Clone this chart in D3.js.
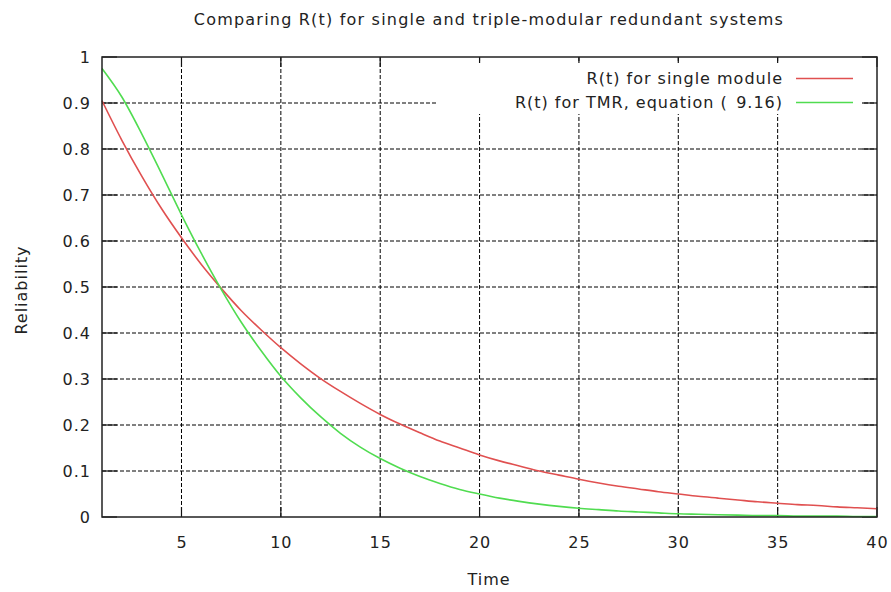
<!DOCTYPE html>
<html>
<head>
<meta charset="utf-8">
<script src="https://cdn.jsdelivr.net/npm/d3@7"></script>
<style>
  html, body { margin: 0; padding: 0; background: #fff; }
  svg { display: block; }
  text { font-family: "DejaVu Sans", sans-serif; fill: #222; letter-spacing: 1px; }
  text.title { letter-spacing: 1.2px; }
</style>
</head>
<body>
<svg id="chart" width="891" height="592"></svg>
<script>
// Time steps (hours, arbitrary units)
const times = [1,2,3,4,5,6,7,8,9,10,11,12,13,14,15,16,17,18,19,20,
               21,22,23,24,25,26,27,28,29,30,31,32,33,34,35,36,37,38,39,40];

// Reliability of a single module
const singleModule = [0.905,0.819,0.741,0.670,0.607,0.549,0.497,0.449,0.407,0.368,
                      0.333,0.301,0.273,0.247,0.223,0.202,0.183,0.165,0.150,0.135,
                      0.122,0.111,0.100,0.091,0.082,0.074,0.067,0.061,0.055,0.050,
                      0.045,0.041,0.037,0.033,0.030,0.027,0.025,0.022,0.020,0.018];

// Reliability of the triple-modular redundant arrangement
const tmrSystem = [0.975,0.913,0.833,0.746,0.657,0.573,0.495,0.424,0.362,0.306,
                   0.259,0.218,0.182,0.152,0.127,0.106,0.088,0.073,0.060,0.050,
                   0.041,0.034,0.028,0.023,0.019,0.016,0.013,0.011,0.009,0.007,
                   0.006,0.005,0.004,0.003,0.003,0.002,0.002,0.002,0.001,0.001];

const xTicks = [5,10,15,20,25,30,35,40];
const yTicks = [0,0.1,0.2,0.3,0.4,0.5,0.6,0.7,0.8,0.9,1];

const seriesLabels = ["R(t) for single module", "R(t) for TMR, equation (\u2009\u20099.16)"];
const seriesColors = ["#e05050", "#50dc50"];

const W = 891, H = 592;
const margin = {top: 57, right: 14, bottom: 75, left: 102};
const iw = W - margin.left - margin.right;
const ih = H - margin.top - margin.bottom;
const fs = 16;

const svg = d3.select("#chart");
const g = svg.append("g").attr("transform", `translate(${margin.left},${margin.top})`);

const x = d3.scaleLinear().domain([1, 40]).range([0, iw]);
const y = d3.scaleLinear().domain([0, 1]).range([ih, 0]);

// Dashed grid
const grid = g.append("g").attr("class", "grid");
grid.selectAll("line.gx").data(xTicks.filter(t => t < 40)).join("line")
  .attr("x1", d => x(d)).attr("x2", d => x(d))
  .attr("y1", 0).attr("y2", ih)
  .attr("stroke", "#000").attr("stroke-width", 1)
  .attr("stroke-dasharray", "4,2");
grid.selectAll("line.gy").data(yTicks.filter(t => t > 0 && t < 1)).join("line")
  .attr("x1", 0).attr("x2", iw)
  .attr("y1", d => y(d)).attr("y2", d => y(d))
  .attr("stroke", "#000").attr("stroke-width", 1)
  .attr("stroke-dasharray", "4,2");

// Inward tick marks on all four sides
const ticks = g.append("g");
const yTickLen = 15, xTickLen = 10;
yTicks.forEach(t => {
  ticks.append("line").attr("x1", 0).attr("x2", yTickLen).attr("y1", y(t)).attr("y2", y(t));
  ticks.append("line").attr("x1", iw).attr("x2", iw - yTickLen).attr("y1", y(t)).attr("y2", y(t));
});
xTicks.forEach(t => {
  ticks.append("line").attr("x1", x(t)).attr("x2", x(t)).attr("y1", ih).attr("y2", ih - xTickLen);
  ticks.append("line").attr("x1", x(t)).attr("x2", x(t)).attr("y1", 0).attr("y2", xTickLen);
});
ticks.selectAll("line").attr("stroke", "#111").attr("stroke-width", 1.2);

// Key with opaque background
const key = g.append("g");
key.append("rect")
  .attr("x", 335).attr("y", 6).attr("width", 425).attr("height", 51)
  .attr("fill", "#fff");

// Curves
const line = d3.line()
  .x((d, i) => x(times[i]))
  .y(d => y(d))
  .curve(d3.curveMonotoneX);

[singleModule, tmrSystem].forEach((s, k) => {
  g.append("path").datum(s)
    .attr("d", line)
    .attr("fill", "none")
    .attr("stroke", seriesColors[k])
    .attr("stroke-width", 1.6);
});

// Key entries
seriesLabels.forEach((lab, k) => {
  const yy = 21.5 + k * 24;
  key.append("text")
    .attr("x", 681).attr("y", yy).attr("dy", "0.36em")
    .attr("text-anchor", "end")
    .attr("font-size", fs)
    .text(lab);
  key.append("line")
    .attr("x1", 694).attr("x2", 751).attr("y1", yy).attr("y2", yy)
    .attr("stroke", seriesColors[k]).attr("stroke-width", 1.6);
});

// Plot border
g.append("rect").attr("x", 0).attr("y", 0).attr("width", iw).attr("height", ih)
  .attr("fill", "none").attr("stroke", "#222").attr("stroke-width", 1.5);

// Tick labels
g.selectAll("text.ylab").data(yTicks).join("text")
  .attr("class", "ylab")
  .attr("x", -11).attr("y", d => y(d)).attr("dy", "0.36em")
  .attr("text-anchor", "end").attr("font-size", fs)
  .text(d => d3.format("~g")(d));
g.selectAll("text.xlab").data(xTicks).join("text")
  .attr("class", "xlab")
  .attr("x", d => x(d) + 0.5).attr("y", ih + 31)
  .attr("text-anchor", "middle").attr("font-size", fs)
  .text(d => d);

// Titles
svg.append("text").attr("class", "title").attr("x", 489).attr("y", 25)
  .attr("text-anchor", "middle").attr("font-size", fs)
  .text("Comparing R(t) for single and triple-modular redundant systems");
svg.append("text").attr("x", 489).attr("y", 585)
  .attr("text-anchor", "middle").attr("font-size", fs)
  .text("Time");
svg.append("text")
  .attr("transform", "translate(27,290) rotate(-90)")
  .attr("text-anchor", "middle").attr("font-size", fs)
  .text("Reliability");
</script>
</body>
</html>
